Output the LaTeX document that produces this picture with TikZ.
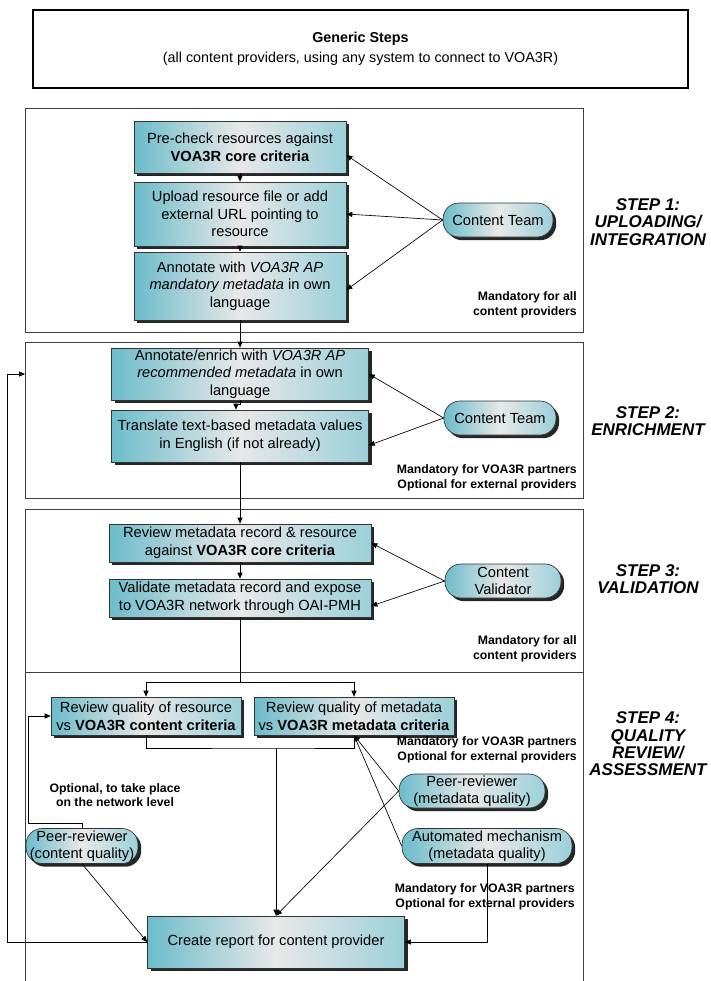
\documentclass[tikz,border=0pt]{standalone}
\usepackage{fontspec}
\setmainfont{Liberation Sans}
\usetikzlibrary{arrows.meta,shadows}

\definecolor{tealL}{RGB}{108,188,203}
\definecolor{tealM}{RGB}{232,232,232}
\definecolor{tealR}{RGB}{155,208,218}

\tikzset{
  sz/.style 2 args={minimum width=#1*0.75pt, minimum height=#2*0.75pt},
  shadebox/.style={left color=tealL, right color=tealR, middle color=tealM},
  shadowed/.style={drop shadow={shadow xshift=2.4pt, shadow yshift=-2.4pt, fill=black!85, opacity=1}},
  task/.style={draw=black!80, line width=0.5pt, shadebox, shadowed, inner sep=1pt, align=center,
    font=\fontsize{11}{13.2}\selectfont},
  actor/.style={task, rounded corners=12pt},
  note/.style={align=right, inner sep=0pt, font=\fontsize{9.2}{11}\selectfont\bfseries},
  steplbl/.style={align=center, inner sep=0pt, font=\fontsize{12.75}{13}\selectfont\bfseries\itshape},
  arr/.style={-{Triangle[length=4.5pt,width=3.8pt]}, line width=0.5pt},
  frame/.style={draw=black!75, line width=0.6pt}
}

\begin{document}
\begin{tikzpicture}[x=0.75pt, y=-0.75pt]
    \useasboundingbox (0,0) rectangle (710,981);

    \node[draw, line width=2.2pt, sz={655}{78}, align=center, font=\fontsize{10.75}{15}\selectfont]
      (title) at (360.5,49) {\textbf{Generic Steps}\\(all content providers, using any system to connect to VOA3R)};

    \draw[frame] (25,108) rectangle (583,332);
    \draw[frame] (25,342) rectangle (583,498);
    \draw[frame] (25,509) rectangle (583,672);
    \draw[frame] (25,985) -- (25,672) -- (583,672) -- (583,985);

    \node[task, sz={212}{52}]  (pre) at (240,147) {Pre-check resources against\\\textbf{VOA3R core criteria}};
    \node[task, sz={212}{64}]  (upl) at (240,214) {Upload resource file or add\\external URL pointing to\\resource};
    \node[task, sz={212}{68}]  (ann) at (240,286) {Annotate with \textit{VOA3R AP}\\\textit{mandatory metadata} in own\\language};
    \node[actor, sz={110}{34}] (ct1) at (498,220) {Content Team};
    \node[note, anchor=east]   (n1)  at (577,305) {Mandatory for all\\content providers};
    \node[steplbl]             (s1)  at (648,222) {STEP 1:\\UPLOADING/\\INTEGRATION};

    \node[task, sz={257}{52}]  (enr) at (240,374) {Annotate/enrich with \textit{VOA3R AP}\\\textit{recommended metadata} in own\\language};
    \node[task, sz={257}{52}]  (tra) at (240,436) {Translate text-based metadata values\\in English (if not already)};
    \node[actor, sz={112}{34}] (ct2) at (500,418) {Content Team};
    \node[note, anchor=east]   (n2)  at (577,478) {Mandatory for VOA3R partners\\Optional for external providers};
    \node[steplbl]             (s2)  at (648,421) {STEP 2:\\ENRICHMENT};

    \node[task, sz={262}{38}]  (rvm) at (240,543) {Review metadata record \& resource\\against \textbf{VOA3R core criteria}};
    \node[task, sz={262}{38}]  (val) at (240,598) {Validate metadata record and expose\\to VOA3R network through OAI-PMH};
    \node[actor, sz={116}{34}] (cv)  at (503,581) {Content\\Validator};
    \node[note, anchor=east]   (n3)  at (577,649) {Mandatory for all\\content providers};
    \node[steplbl]             (s3)  at (648,579) {STEP 3:\\VALIDATION};

    \node[task, sz={190}{38}]  (rqr) at (146,716) {Review quality of resource\\vs \textbf{VOA3R content criteria}};
    \node[task, sz={200}{38}]  (rqm) at (354,716) {Review quality of metadata\\vs \textbf{VOA3R metadata criteria}};
    \node[note, anchor=east]   (n4)  at (577,750) {Mandatory for VOA3R partners\\Optional for external providers};
    \node[steplbl]             (s4)  at (648,744) {STEP 4:\\QUALITY\\REVIEW/\\ASSESSMENT};
    \node[actor, sz={146}{34}] (prm) at (472,791) {Peer-reviewer\\(metadata quality)};
    \node[note, align=center]  (n5)  at (115,795) {Optional, to take place\\on the network level};
    \node[actor, sz={112}{35}] (prc) at (82,846) {Peer-reviewer\\(content quality)};
    \node[actor, sz={170}{35}] (amq) at (487,846) {Automated mechanism\\(metadata quality)};
    \node[note, anchor=east]   (n6)  at (575,897) {Mandatory for VOA3R partners\\Optional for external providers};
    \node[task, sz={257}{52}]  (rep) at (276,942) {Create report for content provider};

    \draw[arr] (pre.south) -- (upl.north);
    \draw[arr] (upl.south) -- (ann.north);
    \draw[arr] (ann.south) -- (enr.north);
    \draw[arr] (enr.south) -- ++(0,4) -| ([xshift=-3pt]tra.north);
    \draw[arr] (tra.south) -- (rvm.north);
    \draw[arr] (rvm.south) -- (val.north);

    \draw[arr] (ct1.west) -- ([yshift=-6pt]pre.east);
    \draw[arr] (ct1.west) -- (upl.east);
    \draw[arr] (ct1.west) -- ([yshift=-3pt]ann.east);
    \draw[arr] (ct2.west) -- (enr.east);
    \draw[arr] (ct2.west) -- ([yshift=-7pt]tra.east);
    \draw[arr] (cv.west)  -- (rvm.east);
    \draw[arr] (cv.west)  -- ([yshift=-6pt]val.east);

    \coordinate (split) at (240,682);
    \draw (val.south) -- (split);
    \draw[arr] (split) -| (rqr.north);
    \draw[arr] (split) -| (rqm.north);

    \coordinate (join) at (276,748);
    \draw (rqr.south) |- (join) -| (rqm.south);
    \draw[arr] (join) -- (rep.north);
    \draw[arr] (prm.west) -- (rqm.south);
    \draw[arr] (amq.west) -- (rqm.south);
    \draw[arr] (prm.west) -- (rep.north);
    \draw[arr] (amq.south) |- (rep.east);
    \draw[arr] (prc.south) -- (rep.west);

    \coordinate (loop1) at (28,823);
    \draw[arr] (prc.north) |- (loop1) |- (rqr.west);
    \coordinate (loop2) at (7,374);
    \coordinate (back) at (25,374);
    \draw[arr] (rep.west) -| (loop2) -- (back);
\end{tikzpicture}
\end{document}
